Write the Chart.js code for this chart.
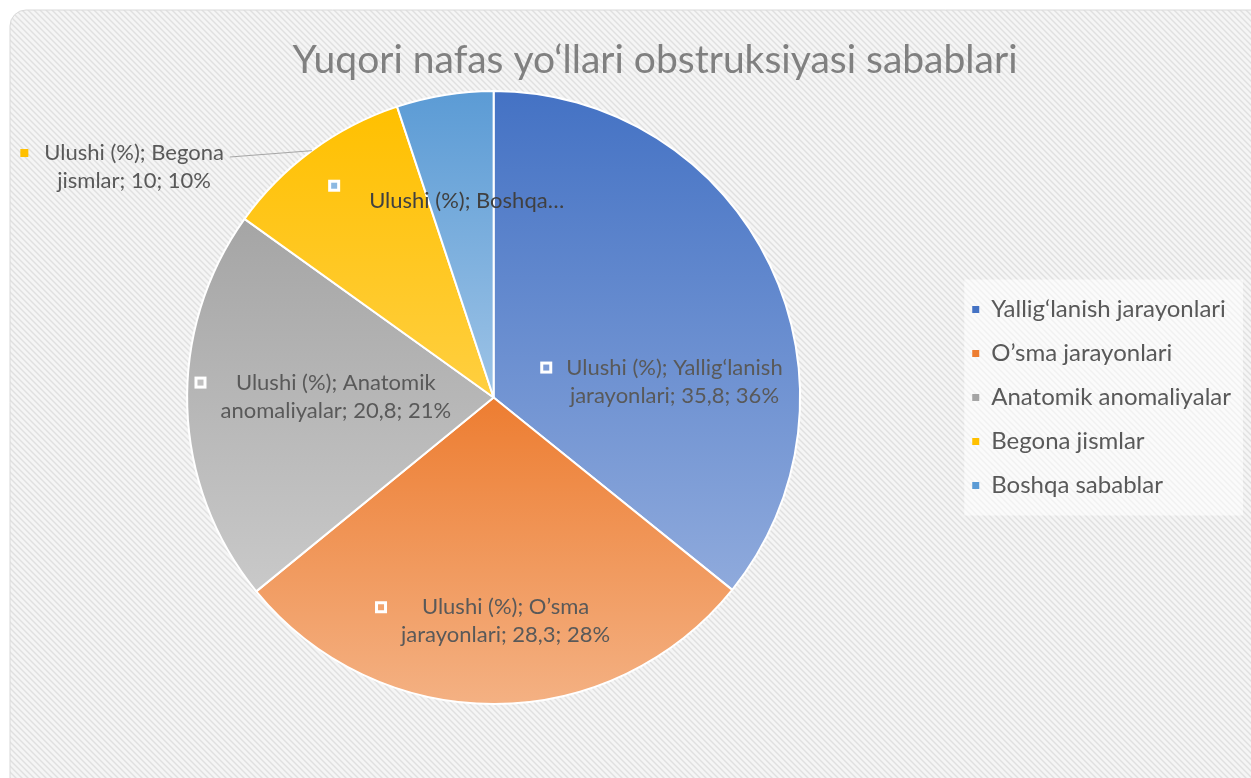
<!DOCTYPE html>
<html>
<head>
<meta charset="utf-8">
<script src="https://cdn.jsdelivr.net/npm/chart.js@4.4.0/dist/chart.umd.min.js"></script>
<style>
  html, body { margin: 0; padding: 0; background: #fff; }
  canvas { display: block; }
</style>
</head>
<body>
<canvas id="chart" width="1251" height="778"></canvas>
<script>
const TITLE = 'Yuqori nafas yo‘llari obstruksiyasi sabablari';
const SERIES_NAME = 'Ulushi (%)';
const CATEGORIES = ['Yallig‘lanish jarayonlari', 'O’sma jarayonlari', 'Anatomik anomaliyalar', 'Begona jismlar', 'Boshqa sabablar'];
const VALUES = [35.8, 28.3, 20.8, 10, 5.1];

const BASE_COLORS  = ['#4472C4', '#ED7D31', '#A5A5A5', '#FFC000', '#5B9BD5'];
const LIGHT_COLORS = ['#8FAADC', '#F4B183', '#C9C9C9', '#FFCF40', '#9DC3E6'];

// where each data label block sits, in pie radii from the centre
const LABEL_OFFSETS = [[0.59, -0.052], [0.039, 0.73], [-0.515, -0.003], [-1.173, -0.752], [-0.088, -0.642]];

const FONT = 'Lato, "Open Sans", sans-serif';
const TEXT = '#595959';
const TOTAL = VALUES.reduce((a, b) => a + b, 0);

function sliceAngles(i) {
  const before = VALUES.slice(0, i).reduce((a, b) => a + b, 0);
  const a0 = -Math.PI / 2 + before / TOTAL * Math.PI * 2;
  return [a0, a0 + VALUES[i] / TOTAL * Math.PI * 2];
}

// vertical gradient over each slice's own height, like the Office style
function sliceFill(ctx) {
  const chart = ctx.chart, i = ctx.dataIndex, area = chart.chartArea;
  if (!area) return BASE_COLORS[i];
  const cx = (area.left + area.right) / 2, cy = (area.top + area.bottom) / 2;
  const r = Math.min(area.right - area.left, area.bottom - area.top) / 2;
  const [a0, a1] = sliceAngles(i);
  const ys = [cy, cy + r * Math.sin(a0), cy + r * Math.sin(a1)];
  [-Math.PI / 2, Math.PI / 2, Math.PI * 1.5].forEach(k => { if (k > a0 && k < a1) ys.push(cy + r * Math.sin(k)); });
  const g = chart.ctx.createLinearGradient(0, Math.min(...ys), 0, Math.max(...ys));
  g.addColorStop(0, BASE_COLORS[i]);
  g.addColorStop(1, LIGHT_COLORS[i]);
  return g;
}

function labelLines(i) {
  const pct = Math.round(VALUES[i] / TOTAL * 100) + '%';
  const val = String(VALUES[i]).replace('.', ',');
  const words = CATEGORIES[i].split(' ');
  if (i === 4) return [SERIES_NAME + '; ' + words[0] + '…']; // cut short in the original
  return [SERIES_NAME + '; ' + words[0], words.slice(1).join(' ') + '; ' + val + '; ' + pct];
}

let hatch = null;
function hatchPattern(ctx) {
  if (hatch) return hatch;
  const c = document.createElement('canvas');
  c.width = 6; c.height = 6;
  const p = c.getContext('2d');
  p.fillStyle = '#f5f5f5';
  p.fillRect(0, 0, 6, 6);
  p.strokeStyle = '#e0e0e0';
  p.lineWidth = 1.4;
  p.beginPath();
  p.moveTo(-1, -1); p.lineTo(7, 7);
  p.moveTo(-1, 5); p.lineTo(1, 7);
  p.moveTo(5, -1); p.lineTo(7, 1);
  p.stroke();
  hatch = ctx.createPattern(c, 'repeat');
  return hatch;
}

const backdrop = {
  id: 'backdrop',
  beforeDraw(chart) {
    const ctx = chart.ctx;
    ctx.save();
    ctx.fillStyle = '#fff';
    ctx.fillRect(0, 0, chart.width, chart.height);
    ctx.beginPath();
    ctx.roundRect(10, 10, chart.width + 20, chart.height + 20, 16);
    ctx.fillStyle = hatchPattern(ctx);
    ctx.fill();
    ctx.strokeStyle = '#d9d9d9';
    ctx.lineWidth = 1;
    ctx.stroke();
    // light box behind the legend entries
    const hb = chart.legend && chart.legend.legendHitBoxes;
    if (hb && hb.length) {
      const top = hb[0].top - 18, bottom = hb[hb.length - 1].top + hb[hb.length - 1].height + 18;
      ctx.fillStyle = 'rgba(255,255,255,0.55)';
      ctx.fillRect(hb[0].left - 8, top, chart.width - hb[0].left, bottom - top);
    }
    ctx.restore();
  }
};

const titleText = {
  id: 'titleText',
  afterDraw(chart) {
    const ctx = chart.ctx;
    ctx.save();
    ctx.font = '39px ' + FONT;
    ctx.fillStyle = '#808080';
    ctx.textAlign = 'center';
    ctx.textBaseline = 'middle';
    ctx.fillText(TITLE, 655, 60);
    ctx.restore();
  }
};

const sliceLabels = {
  id: 'sliceLabels',
  afterDatasetsDraw(chart) {
    const ctx = chart.ctx;
    const meta = chart.getDatasetMeta(0);
    ctx.save();
    ctx.font = '22px ' + FONT;
    ctx.textAlign = 'center';
    ctx.textBaseline = 'middle';
    meta.data.forEach((arc, i) => {
      const { x, y, outerRadius, startAngle, endAngle } = arc.getProps(['x', 'y', 'outerRadius', 'startAngle', 'endAngle'], true);
      const bx = x + LABEL_OFFSETS[i][0] * outerRadius;
      const by = y + LABEL_OFFSETS[i][1] * outerRadius;
      const lines = labelLines(i);
      const lineH = 28;
      const maxW = Math.max(...lines.map(t => ctx.measureText(t).width));
      const left = bx - maxW / 2;
      const y0 = by - (lines.length - 1) * lineH / 2;
      const inside = Math.hypot(bx - x, by - y) < outerRadius;

      ctx.fillStyle = i === 4 ? '#404040' : TEXT;
      lines.forEach((t, k) => ctx.fillText(t, bx, y0 + k * lineH));

      const mx = left - (lines.length === 1 ? 35 : 20);
      const my = y0 - (lines.length === 1 ? 15 : 0);
      if (inside) {
        ctx.fillStyle = '#fff';
        ctx.fillRect(mx - 6, my - 6, 12, 12);
        ctx.fillStyle = BASE_COLORS[i];
        ctx.globalAlpha = 0.7;
        ctx.fillRect(mx - 3, my - 3, 6, 6);
        ctx.globalAlpha = 1;
      } else {
        ctx.fillStyle = BASE_COLORS[i];
        ctx.fillRect(mx - 4, my - 4, 8, 8);
        const mid = (startAngle + endAngle) / 2;
        ctx.strokeStyle = '#a6a6a6';
        ctx.lineWidth = 1;
        ctx.beginPath();
        ctx.moveTo(left + maxW + 6, y0 + 4);
        ctx.lineTo(x + Math.cos(mid) * outerRadius, y + Math.sin(mid) * outerRadius);
        ctx.stroke();
      }
    });
    ctx.restore();
  }
};

new Chart(document.getElementById('chart'), {
  type: 'pie',
  data: {
    labels: CATEGORIES,
    datasets: [{
      label: SERIES_NAME,
      data: VALUES,
      backgroundColor: sliceFill,
      borderColor: '#ffffff',
      borderWidth: 2,
    }]
  },
  options: {
    responsive: false,
    animation: false,
    events: [],
    layout: { padding: { top: 90, bottom: 73, left: 35, right: 10 } },
    plugins: {
      title: { display: false },
      tooltip: { enabled: false },
      legend: {
        position: 'right',
        align: 'center',
        labels: {
          boxWidth: 7,
          boxHeight: 7,
          padding: 20,
          color: TEXT,
          font: { family: FONT, size: 24 },
          generateLabels: chart => CATEGORIES.map((c, i) => ({
            text: c,
            fillStyle: BASE_COLORS[i],
            strokeStyle: BASE_COLORS[i],
            lineWidth: 0,
            fontColor: TEXT,
            index: i,
          })),
        }
      }
    }
  },
  plugins: [backdrop, titleText, sliceLabels]
});
</script>
</body>
</html>
